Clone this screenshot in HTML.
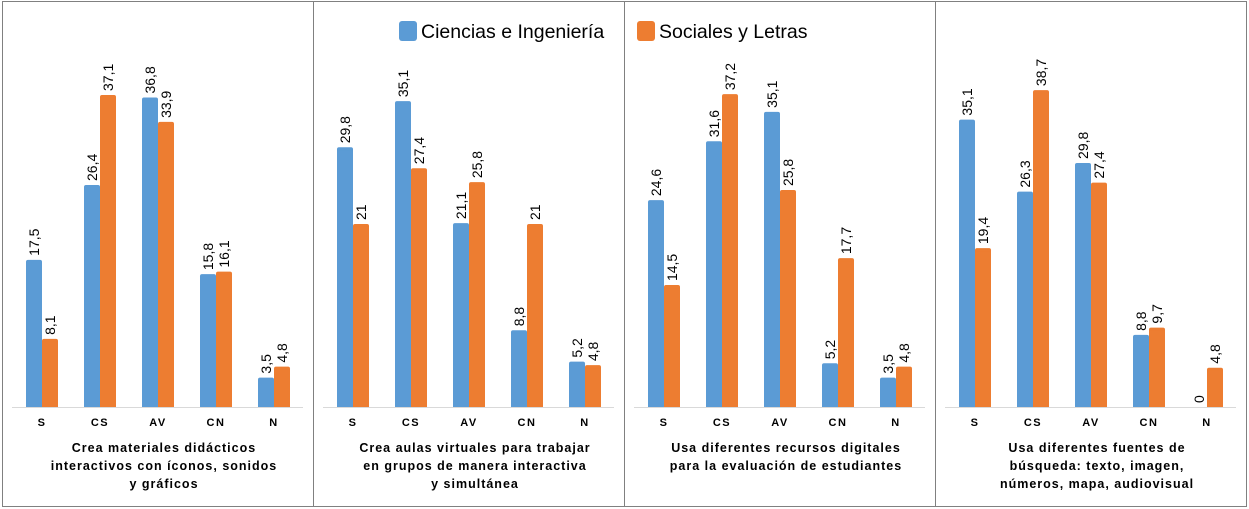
<!DOCTYPE html>
<html><head><meta charset="utf-8"><style>
html,body{margin:0;padding:0;background:#fff;}
svg{display:block;font-family:"Liberation Sans",sans-serif;}
</style></head><body>
<svg id="c" width="1249" height="509"></svg>
<script>
const categories=["S","CS","AV","CN","N"];
const cienciasP1=[17.5,26.4,36.8,15.8,3.5];
const socialesP1=[8.1,37.1,33.9,16.1,4.8];
const cienciasP2=[29.8,35.1,21.1,8.8,5.2];
const socialesP2=[21,27.4,25.8,21,4.8];
const cienciasP3=[24.6,31.6,35.1,5.2,3.5];
const socialesP3=[14.5,37.2,25.8,17.7,4.8];
const cienciasP4=[35.1,26.3,29.8,8.8,0];
const socialesP4=[19.4,38.7,27.4,9.7,4.8];
const titles=[["Crea materiales didácticos","interactivos con íconos, sonidos","y gráficos"],
["Crea aulas virtuales para trabajar","en grupos de manera interactiva","y simultánea"],
["Usa diferentes recursos digitales","para la evaluación de estudiantes"],
["Usa diferentes fuentes de","búsqueda: texto, imagen,","números, mapa, audiovisual"]];
const ser=[[cienciasP1,socialesP1],[cienciasP2,socialesP2],[cienciasP3,socialesP3],[cienciasP4,socialesP4]];
const NS="http://www.w3.org/2000/svg";
const svg=document.getElementById('c');
function mk(t,a,p){const e=document.createElementNS(NS,t);for(const k in a)e.setAttribute(k,a[k]);(p||svg).appendChild(e);return e;}
const base=407, plotH=312;
const colors=["#5b9bd5","#ed7d31"];
for(let p=0;p<4;p++){
  const x0=2+p*311;
  const all=ser[p][0].concat(ser[p][1]);
  const mx=Math.max(...all);
  const k=plotH/(mx<36?35.8:(mx<38?37.1:38.1));
  const y=v=>base-v*k;
  const g=mk('g',{});
  
  
  const r=mk('rect',{x:x0+0.5,y:1.5,width:311,height:505,fill:'none',stroke:'#808080','stroke-width':1},g);
  
  
  const ax=mk('line',{x1:x0+10,x2:x0+301,y1:base+0.5,y2:base+0.5,stroke:'#d9d9d9','stroke-width':1},g);
  
  
  categories.forEach((c,i)=>{
    const cx=x0+40+i*58;
    const t=mk('text',{x:cx,y:426,'text-anchor':'middle','font-size':11,'font-weight':'bold',fill:'#000','letter-spacing':'1.5'},g);
    t.textContent=c;
    
    
    for(let s=0;s<2;s++){
      const v=ser[p][s][i];
      const bx=cx-16+s*16;
      if(v>0){
        const b=mk('rect',{x:bx,y:y(v),width:16,height:v*k,fill:colors[s],rx:2},g);
        
        
        mk('rect',{x:bx,y:y(v)+3,width:16,height:Math.max(0,v*k-3),fill:colors[s]},g);
      }
      const lx=bx+8+5, ly=y(v)-4;
      const l=mk('text',{x:lx,y:ly,transform:`rotate(-90 ${lx} ${ly})`,'font-size':14,fill:'#000'},g);
      l.textContent=String(v).replace('.',',');
      
      
    }
  });
  titles[p].forEach((ln,j)=>{
    const t=mk('text',{x:x0+162,y:452+j*18,'text-anchor':'middle','font-size':12.5,'font-weight':'bold',fill:'#000','letter-spacing':'1'},g);
    t.textContent=ln;
    
    
  });
}
const leg=[["Ciencias e Ingeniería",399],["Sociales y Letras",637]];
leg.forEach((L,i)=>{
  const sq=mk('rect',{x:L[1],y:21,width:18,height:20,rx:3,fill:colors[i]});
  
  
  const t=mk('text',{x:L[1]+22,y:38,'font-size':19.5,fill:'#000'});
  t.textContent=L[0];
  
  
});
</script>
</body></html>
